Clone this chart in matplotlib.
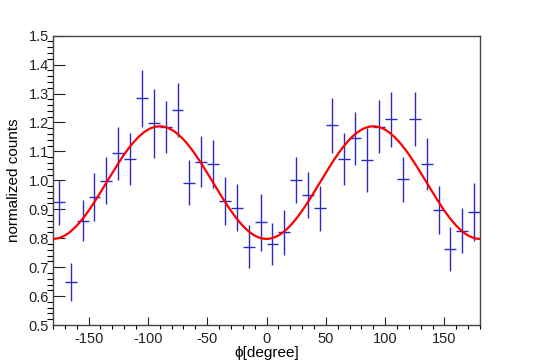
import numpy as np
import matplotlib
matplotlib.use("Agg")
import matplotlib.pyplot as plt
from matplotlib.ticker import MultipleLocator

plt.rcParams['font.family'] = ['Liberation Sans', 'DejaVu Sans']

# bin centres (10 degree bins) and normalized counts
phi = [-175, -165, -155, -145, -135, -125, -115, -105, -95, -85, -75, -65,
       -55, -45, -35, -25, -15, -5, 5, 15, 25, 35, 45, 55,
       65, 75, 85, 95, 105, 115, 125, 135, 145, 155, 165, 175]
counts = [0.924, 0.650, 0.860, 0.943, 0.999, 1.093, 1.073, 1.284, 1.197, 1.183, 1.243, 0.992,
          1.065, 1.057, 0.929, 0.906, 0.771, 0.855, 0.780, 0.820, 1.001, 0.949, 0.903, 1.191,
          1.073, 1.145, 1.070, 1.185, 1.211, 1.004, 1.211, 1.055, 0.897, 0.763, 0.826, 0.892]
errors = [0.078, 0.066, 0.071, 0.082, 0.082, 0.092, 0.090, 0.098, 0.119, 0.090, 0.093, 0.077,
          0.088, 0.084, 0.083, 0.082, 0.075, 0.098, 0.073, 0.077, 0.078, 0.080, 0.078, 0.095,
          0.090, 0.092, 0.110, 0.092, 0.095, 0.078, 0.094, 0.090, 0.082, 0.077, 0.078, 0.100]
bin_half = 5

phi = np.array(phi)
counts = np.array(counts)
errors = np.array(errors)

# weighted fit of p0 + p1*cos(2 phi) to the points
w = 1 / errors
A = np.column_stack([np.ones_like(counts), np.cos(np.radians(2 * phi))])
p, *_ = np.linalg.lstsq(A * w[:, None], counts * w, rcond=None)

fig = plt.figure(figsize=(5.33, 3.62), dpi=100)
ax = fig.add_axes([0.0994, 0.1022, 0.9006 - 0.0994, 0.9014 - 0.1022])

ax.errorbar(phi, counts, yerr=errors, xerr=bin_half, fmt='none',
            ecolor='#2a2ac4', elinewidth=1.0, capsize=0, zorder=2)

xf = np.linspace(-180, 180, 400)
ax.plot(xf, p[0] + p[1] * np.cos(np.radians(2 * xf)), color='#ff0000', lw=1.6, zorder=3)

ax.set_xlim(-180, 180)
ax.set_ylim(0.5, 1.5)
ax.xaxis.set_major_locator(MultipleLocator(50))
ax.xaxis.set_minor_locator(MultipleLocator(10))
ax.yaxis.set_major_locator(MultipleLocator(0.1))
ax.yaxis.set_minor_locator(MultipleLocator(0.02))
ax.yaxis.set_major_formatter(plt.FuncFormatter(lambda v, _: f"{v:.1f}"))
ax.xaxis.set_major_formatter(plt.FuncFormatter(lambda v, _: f"{v:.0f}"))

ax.tick_params(axis='both', direction='in', labelsize=10.5, colors='#222222', width=0.8)
ax.tick_params(axis='x', which='major', length=6, pad=5)
ax.tick_params(axis='x', which='minor', length=3, width=0.8)
ax.tick_params(axis='y', which='major', length=8.6, pad=3)
ax.tick_params(axis='y', which='minor', length=4.3, width=0.8)
ax.tick_params(top=False, right=False, which='both')
for s in ax.spines.values():
    s.set_color('#444444')
    s.set_linewidth(1.0)

ax.set_xlabel('ϕ[degree]', fontsize=11, labelpad=0)
ax.set_ylabel('normalized counts', fontsize=11, labelpad=5)

plt.savefig('out.png', dpi=100)
